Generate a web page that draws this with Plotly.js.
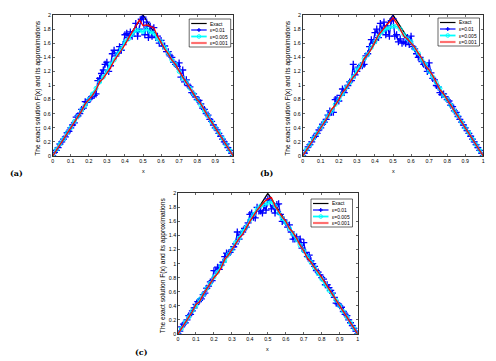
<!DOCTYPE html>
<html>
<head>
<meta charset="utf-8">
<script src="https://cdn.plot.ly/plotly-3.0.1.min.js"></script>
<style>html,body{margin:0;padding:0;background:#fff;}#chart{width:496px;height:361px;}</style>
</head>
<body>
<div id="chart"></div>
<script>
// ---- data ----
var xExact = [0, 0.5, 1];
var yExact = [0, 2, 0];

var xFine = [0,0.01,0.02,0.03,0.04,0.05,0.06,0.07,0.08,0.09,0.10,0.11,0.12,0.13,0.14,0.15,0.16,0.17,0.18,0.19,0.20,0.21,0.22,0.23,0.24,0.25,0.26,0.27,0.28,0.29,0.30,0.31,0.32,0.33,0.34,0.35,0.36,0.37,0.38,0.39,0.40,0.41,0.42,0.43,0.44,0.45,0.46,0.47,0.48,0.49,0.50,0.51,0.52,0.53,0.54,0.55,0.56,0.57,0.58,0.59,0.60,0.61,0.62,0.63,0.64,0.65,0.66,0.67,0.68,0.69,0.70,0.71,0.72,0.73,0.74,0.75,0.76,0.77,0.78,0.79,0.80,0.81,0.82,0.83,0.84,0.85,0.86,0.87,0.88,0.89,0.90,0.91,0.92,0.93,0.94,0.95,0.96,0.97,0.98,0.99,1.00];
var xCoarse = [0,0.02,0.04,0.06,0.08,0.10,0.12,0.14,0.16,0.18,0.20,0.22,0.24,0.26,0.28,0.30,0.32,0.34,0.36,0.38,0.40,0.42,0.44,0.46,0.48,0.50,0.52,0.54,0.56,0.58,0.60,0.62,0.64,0.66,0.68,0.70,0.72,0.74,0.76,0.78,0.80,0.82,0.84,0.86,0.88,0.90,0.92,0.94,0.96,0.98,1.00];

// panel (a)
var aEps01 = [0,0.05,0.08,0.12,0.17,0.20,0.24,0.27,0.33,0.35,0.40,0.44,0.47,0.55,0.57,0.60,0.66,0.68,0.77,0.76,0.80,0.82,0.85,0.86,0.88,1.07,1.10,1.17,1.22,1.30,1.33,1.20,1.28,1.45,1.50,1.42,1.46,1.55,1.50,1.58,1.72,1.74,1.68,1.76,1.70,1.76,1.88,1.70,1.80,1.94,1.97,1.72,1.90,1.68,1.84,1.70,1.82,1.68,1.70,1.60,1.64,1.56,1.56,1.48,1.48,1.42,1.40,1.33,1.30,1.27,1.32,1.12,1.22,1.05,1.08,1.00,0.98,0.90,0.88,0.84,0.80,0.79,0.74,0.68,0.66,0.60,0.58,0.52,0.49,0.44,0.40,0.37,0.32,0.28,0.24,0.20,0.17,0.12,0.08,0.04,0];
var aEps005 = [0,0.09,0.17,0.24,0.33,0.40,0.49,0.56,0.65,0.72,0.80,0.88,0.96,1.05,1.12,1.20,1.30,1.36,1.45,1.52,1.62,1.66,1.72,1.78,1.78,1.76,1.80,1.76,1.74,1.66,1.62,1.54,1.46,1.36,1.30,1.20,1.10,1.05,0.96,0.88,0.80,0.72,0.64,0.57,0.48,0.40,0.33,0.25,0.16,0.08,0];
var aEps001 = [0,0.08,0.16,0.24,0.33,0.40,0.48,0.56,0.64,0.74,0.80,0.86,0.94,1.05,1.10,1.18,1.25,1.35,1.42,1.50,1.58,1.68,1.76,1.84,1.93,1.85,1.86,1.84,1.82,1.70,1.60,1.52,1.45,1.36,1.30,1.20,1.12,1.04,0.96,0.88,0.80,0.74,0.64,0.56,0.48,0.40,0.32,0.24,0.16,0.08,0];

// panel (b)
var bEps01 = [0,0.04,0.08,0.13,0.16,0.20,0.26,0.28,0.32,0.37,0.40,0.45,0.48,0.52,0.58,0.64,0.62,0.62,0.80,0.82,0.78,0.86,0.95,0.90,0.96,1.00,1.05,1.07,1.30,1.15,1.20,1.26,1.28,1.28,1.30,1.42,1.45,1.55,1.65,1.60,1.75,1.80,1.68,1.88,1.78,1.90,1.72,1.85,1.70,1.92,1.95,1.70,1.72,1.62,1.66,1.60,1.62,1.60,1.68,1.58,1.70,1.55,1.52,1.45,1.40,1.40,1.34,1.30,1.28,1.20,1.32,1.18,1.10,1.08,1.00,0.98,0.90,0.87,0.88,0.84,0.80,0.78,0.72,0.70,0.64,0.62,0.56,0.52,0.48,0.44,0.40,0.36,0.32,0.28,0.24,0.20,0.16,0.12,0.08,0.04,0];
var bEps005 = [0,0.09,0.16,0.25,0.32,0.41,0.48,0.57,0.64,0.73,0.80,0.88,0.97,1.04,1.12,1.22,1.28,1.38,1.44,1.54,1.62,1.70,1.76,1.80,1.82,1.84,1.84,1.80,1.72,1.66,1.62,1.52,1.46,1.36,1.30,1.20,1.12,1.04,0.96,0.86,0.80,0.72,0.64,0.57,0.48,0.40,0.33,0.24,0.16,0.08,0];
var bEps001 = [0,0.08,0.16,0.24,0.33,0.40,0.48,0.56,0.66,0.72,0.80,0.90,0.96,1.04,1.12,1.18,1.26,1.38,1.44,1.52,1.62,1.72,1.78,1.85,1.90,1.96,1.88,1.80,1.70,1.66,1.60,1.54,1.46,1.38,1.28,1.22,1.14,1.04,0.94,0.88,0.80,0.72,0.64,0.56,0.48,0.40,0.32,0.24,0.16,0.08,0];

// panel (c)
var cEps01 = [0,0.04,0.10,0.14,0.16,0.20,0.26,0.28,0.33,0.37,0.42,0.46,0.48,0.50,0.56,0.58,0.65,0.68,0.74,0.76,0.90,0.90,0.95,0.92,0.98,1.02,1.10,1.15,1.14,1.16,1.20,1.24,1.28,1.45,1.35,1.42,1.45,1.50,1.52,1.58,1.70,1.72,1.66,1.65,1.80,1.75,1.75,1.72,1.82,1.76,1.92,1.90,1.78,1.82,1.72,1.84,1.85,1.70,1.60,1.62,1.58,1.52,1.55,1.45,1.35,1.35,1.38,1.32,1.35,1.22,1.30,1.16,1.10,1.12,1.04,1.00,0.96,0.90,0.88,0.84,0.80,0.78,0.70,0.70,0.66,0.62,0.58,0.52,0.44,0.43,0.40,0.38,0.32,0.28,0.26,0.20,0.16,0.12,0.08,0.04,0];
var cEps005 = [0,0.08,0.17,0.24,0.33,0.40,0.49,0.56,0.65,0.72,0.81,0.88,0.97,1.04,1.13,1.20,1.30,1.36,1.46,1.52,1.62,1.70,1.78,1.82,1.84,1.86,1.88,1.82,1.72,1.64,1.58,1.50,1.42,1.34,1.26,1.18,1.10,1.02,0.94,0.86,0.78,0.70,0.62,0.56,0.48,0.40,0.32,0.24,0.16,0.08,0];
var cEps001 = [0,0.08,0.16,0.24,0.32,0.42,0.46,0.56,0.64,0.72,0.80,0.86,0.94,1.06,1.12,1.20,1.28,1.36,1.42,1.52,1.60,1.68,1.76,1.82,1.88,1.92,1.94,1.82,1.74,1.66,1.60,1.50,1.44,1.36,1.26,1.18,1.08,1.02,0.94,0.88,0.80,0.72,0.64,0.56,0.48,0.40,0.32,0.24,0.16,0.08,0];

var legendNames = ['Exact', '\u03b5=0.01', '\u03b5=0.005', '\u03b5=0.001'];
var panelLabels = ['(a)', '(b)', '(c)'];
var yTitle = 'The exact solution F(x) and its approximations';
var xTitle = 'x';

// ---- layout geometry ----
var W = 496, H = 361;
var panels = [
  {x0: 52.7, x1: 233.3, yt: 15, yb: 156, lx: 230.7, ly: 19, labx: 16, laby: 173, eps: [aEps01, aEps005, aEps001]},
  {x0: 302.7, x1: 483.3, yt: 15, yb: 156, lx: 479.5, ly: 18, labx: 266, laby: 173, eps: [bEps01, bEps005, bEps001]},
  {x0: 178, x1: 357.7, yt: 193.3, yb: 334, lx: 352.5, ly: 199, labx: 141, laby: 352, eps: [cEps01, cEps005, cEps001]}
];
var colors = ['#000000', '#0000ff', '#00ffff', '#ff0000'];

var traces = [];
var shapes = [];
var layout = {
  width: W, height: H,
  margin: {l: 0, r: 0, t: 0, b: 0},
  paper_bgcolor: '#fff', plot_bgcolor: '#fff',
  font: {family: 'Liberation Sans, Arial, sans-serif', color: '#000', size: 5},
  annotations: [], shapes: shapes, showlegend: false
};
function px(x) { return x / W; }
function py(y) { return 1 - y / H; }

panels.forEach(function (p, i) {
  var sfx = i === 0 ? '' : String(i + 1);
  var xa = 'x' + sfx, ya = 'y' + sfx;
  traces.push({x: xExact, y: yExact, xaxis: xa, yaxis: ya, name: legendNames[0], mode: 'lines',
    line: {color: colors[0], width: 1.3}});
  traces.push({x: xFine, y: p.eps[0], xaxis: xa, yaxis: ya, name: legendNames[1], mode: 'lines+markers',
    line: {color: colors[1], width: 1.3}, marker: {symbol: 'cross-thin', size: 5, line: {color: colors[1], width: 1.3}}});
  traces.push({x: xCoarse, y: p.eps[1], xaxis: xa, yaxis: ya, name: legendNames[2], mode: 'lines+markers',
    line: {color: colors[2], width: 1.8}, marker: {symbol: 'circle-open', size: 4, color: colors[2], line: {color: colors[2], width: 1}}});
  traces.push({x: xCoarse, y: p.eps[2], xaxis: xa, yaxis: ya, name: legendNames[3], mode: 'lines',
    line: {color: colors[3], width: 1.3}});

  var common = {showline: true, mirror: 'ticks', linecolor: '#000', linewidth: 0.8, ticks: 'inside', ticklen: 2,
    tickwidth: 0.6, tickcolor: '#000', showgrid: false, zeroline: false, tickfont: {size: 5.3}, fixedrange: true,
    tickangle: 0, automargin: false};
  layout['xaxis' + sfx] = Object.assign({}, common, {domain: [px(p.x0), px(p.x1)], range: [0, 1], tick0: 0, dtick: 0.1, anchor: ya});
  layout['yaxis' + sfx] = Object.assign({}, common, {domain: [py(p.yb), py(p.yt)], range: [0, 2], tick0: 0, dtick: 0.2, anchor: xa});

  // axis titles and panel label
  layout.annotations.push({xref: 'paper', yref: 'paper', x: px(p.x0 - 15.5), y: py((p.yt + p.yb) / 2 + 2),
    text: yTitle, textangle: -90, showarrow: false, font: {size: 6.6}, xanchor: 'center', yanchor: 'middle'});
  layout.annotations.push({xref: 'paper', yref: 'paper', x: px((p.x0 + p.x1) / 2), y: py(p.yb + 15),
    text: xTitle, showarrow: false, font: {size: 5.5}, xanchor: 'center', yanchor: 'middle'});
  layout.annotations.push({xref: 'paper', yref: 'paper', x: px(p.labx), y: py(p.laby),
    text: '<b>' + panelLabels[i] + '</b>', showarrow: false, font: {size: 8, family: 'DejaVu Serif, Liberation Serif, serif'},
    xanchor: 'center', yanchor: 'middle'});

  // legend box (drawn in paper coordinates)
  var bw = 41.5, bh = 28;
  var L = p.lx - bw, T = p.ly;
  shapes.push({type: 'rect', xref: 'paper', yref: 'paper', x0: px(L), x1: px(p.lx), y0: py(T + bh), y1: py(T),
    fillcolor: '#fff', line: {color: '#000', width: 0.6}, layer: 'above'});
  var rows = [4.5, 11, 17.5, 24];
  rows.forEach(function (ry, k) {
    var yy = T + ry;
    var lcol = k === 3 ? '#ff7070' : colors[k];
    var lw = k === 3 ? 2.2 : (k === 2 ? 1.8 : 1.2);
    shapes.push({type: 'line', xref: 'paper', yref: 'paper', x0: px(L + 2), x1: px(L + 17.5), y0: py(yy), y1: py(yy),
      line: {color: lcol, width: lw}, layer: 'above'});
    var cx = L + 9.75;
    if (k === 1) {
      shapes.push({type: 'line', xref: 'paper', yref: 'paper', x0: px(cx - 2), x1: px(cx + 2), y0: py(yy), y1: py(yy),
        line: {color: colors[1], width: 1.2}, layer: 'above'});
      shapes.push({type: 'line', xref: 'paper', yref: 'paper', x0: px(cx), x1: px(cx), y0: py(yy - 2), y1: py(yy + 2),
        line: {color: colors[1], width: 1.2}, layer: 'above'});
    }
    if (k === 2) {
      shapes.push({type: 'circle', xref: 'paper', yref: 'paper', x0: px(cx - 1.8), x1: px(cx + 1.8), y0: py(yy + 1.8), y1: py(yy - 1.8),
        line: {color: colors[2], width: 1}, layer: 'above'});
    }
    layout.annotations.push({xref: 'paper', yref: 'paper', x: px(L + 19), y: py(yy), text: legendNames[k],
      showarrow: false, xanchor: 'left', yanchor: 'middle', font: {size: 5}});
  });
});

Plotly.newPlot('chart', traces, layout, {displayModeBar: false, staticPlot: true});
</script>
</body>
</html>
